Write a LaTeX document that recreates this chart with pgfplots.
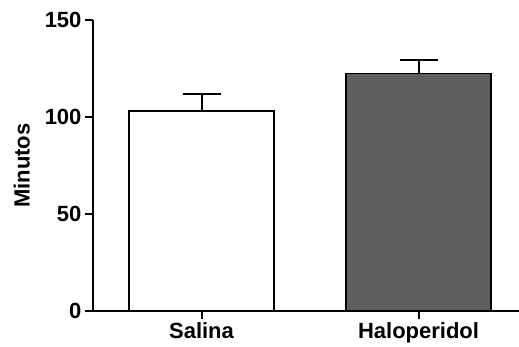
\documentclass[border=0pt]{standalone}
\usepackage{pgfplots}
\pgfplotsset{compat=1.18}
\usepackage{fontspec}
\setmainfont{Liberation Sans}
\definecolor{darkbar}{HTML}{5F5F5F}
\newcommand{\bigfont}{\fontsize{22}{26}\selectfont\bfseries}
\begin{document}
\begin{tikzpicture}
\useasboundingbox (0,0) rectangle (519pt,347pt);
\begin{axis}[
  at={(93pt,36pt)}, anchor=south west,
  scale only axis, width=426pt, height=291pt,
  xmin=-0.5, xmax=1.463, ymin=0, ymax=150,
  axis x line*=bottom, axis y line*=left,
  axis line style={line width=2pt, black},
  xtick={0,1}, xticklabels={Salina,Haloperidol},
  ytick={0,50,100,150},
  tick align=outside, major tick length=8pt,
  tick style={line width=2pt, black},
  tick label style={font=\bigfont},
  label style={font=\bigfont},
  /pgf/number format/assume math mode=true,
  ylabel={Minutos},
  ylabel shift=8pt,
  clip=false,
]
\addplot[ybar, bar width=145pt, bar shift=0pt, fill=white, draw=black, line width=1.5pt,
  error bars/.cd, y dir=plus, y explicit,
  error bar style={line width=2pt, black},
  error mark options={rotate=90, mark size=19pt, line width=2pt, black}]
  coordinates {(0,103.2) +- (0,8.8)};
\addplot[ybar, bar width=145pt, bar shift=0pt, fill=darkbar, draw=black, line width=1.5pt,
  error bars/.cd, y dir=plus, y explicit,
  error bar style={line width=2pt, black},
  error mark options={rotate=90, mark size=19pt, line width=2pt, black}]
  coordinates {(1,122.5) +- (0,6.9)};
\end{axis}
\end{tikzpicture}
\end{document}
